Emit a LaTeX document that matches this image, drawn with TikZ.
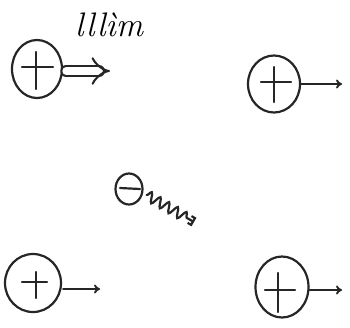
\documentclass[tikz,border=0pt]{standalone}
\usetikzlibrary{arrows.meta,shapes.geometric,decorations.pathmorphing,calc}
\begin{document}
\begin{tikzpicture}[x=1pt,y=-1pt,
  ink/.style={line width=2.2pt,draw=black!85,line cap=round},
  charge/.style={ink,ellipse,inner sep=0pt,minimum width=#1},
  vel/.style={ink,line width=1.9pt,-{To[length=6pt,width=9pt]}},
  lbl/.style={font=\itshape\fontsize{34}{34}\selectfont,inner sep=0pt}]
\useasboundingbox (0,0) rectangle (350,327);
% charges
\node[charge=50pt,minimum height=58pt] (p1) at (37,69) {};
\node[charge=52pt,minimum height=57pt] (p2) at (274,84) {};
\node[charge=56pt,minimum height=58pt] (p3) at (33,283) {};
\node[charge=53pt,minimum height=61pt] (p4) at (282,287) {};
\node[charge=27pt,minimum height=31pt] (e) at (129,189) {};
% plus signs
\draw[ink] ($(p1)+(-15,-2)$) -- ($(p1)+(16,-2)$) ($(p1)+(-1,-17)$) -- ($(p1)+(-1,20)$);
\draw[ink] ($(p2)+(-13,-2)$) -- ($(p2)+(17,-2)$) ($(p2)+(0,-17)$) -- ($(p2)+(0,18)$);
\draw[ink] ($(p3)+(-11,-1)$) -- ($(p3)+(14,-1)$) ($(p3)+(3,-11)$) -- ($(p3)+(3,15)$);
\draw[ink] ($(p4)+(-17,3)$) -- ($(p4)+(13,3)$) ($(p4)+(-4,-14)$) -- ($(p4)+(-4,25)$);
% minus
\draw[ink] ($(e)+(-9,-1)$) -- ($(e)+(11,0)$);
% velocity arrows
\coordinate (a1) at (110,71);
\coordinate (a2) at (342,84);
\coordinate (a3) at (100,289);
\coordinate (a4) at (342,290);
\coordinate (w) at (194,222);
\draw[ink,double distance=7.5pt,line width=2.1pt,-{Implies[length=9pt]}] ($(p1.east)+(3,2)$) -- (a1);
\draw[vel] (p2.east) -- (a2);
\draw[vel] ($(p3.east)+(1,6)$) -- (a3);
\draw[vel] ($(p4.east)+(0,3)$) -- (a4);
\draw[ink,decorate,decoration={snake,amplitude=5pt,segment length=10pt,post length=5pt},-{Bracket[length=4pt,width=10pt]}] ($(e.east)+(3,6)$) -- (w);
\node[lbl] (t) at (109,25) {lllìm};
\end{tikzpicture}
\end{document}
